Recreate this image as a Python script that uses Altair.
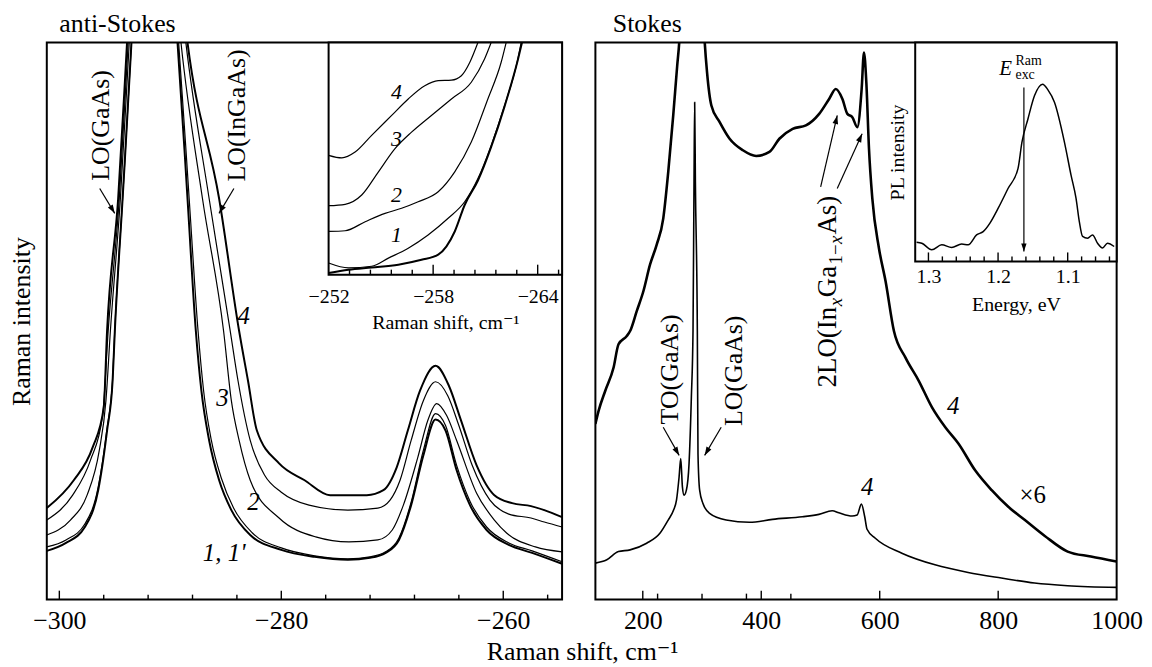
import math
import altair as alt
import pandas as pd

FONT = "Liberation Serif, Times New Roman, DejaVu Serif, serif"
W_L, W_R, H = 518, 524, 560

# ---------------- anti-Stokes main spectra (Raman shift cm-1, intensity a.u.) ----------------
as_x_4 = [-301.13, -298.7, -297.0, -296.0, -295.7, -294.7, -293.9, -293.2, -291.8, -289.8, -288.45, -285.6,
          -283.8, -283.0, -282.2, -280.2, -277.9, -275.6, -272.3, -270.8, -269.6, -268.6, -267.5, -266.1,
          -264.9, -263.8, -262.4, -260.8, -259.2, -257.5, -256.3, -254.7]
as_v_4 = [92, 120, 153, 193, 270, 403, 560, 700, 1000, 700, 560, 403, 270, 220, 170, 137, 120, 105, 105, 110,
          133, 170, 210, 235, 215, 180, 135, 105, 97, 94, 90, 83]
as_x_3 = [-301.13, -298.8, -297.2, -296.1, -295.6, -294.6, -293.8, -293.1, -291.8, -289.9, -288.6, -286.5,
          -284.6, -283.9, -282.8, -281.5, -280.0, -277.5, -274.0, -271.3, -270.2, -269.3, -268.3, -267.2,
          -266.1, -265.0, -264.0, -262.8, -261.2, -259.5, -257.5, -256.3, -254.7]
as_v_3 = [80, 105, 140, 185, 270, 403, 560, 700, 1000, 700, 560, 403, 270, 220, 160, 125, 108, 95, 90, 92, 100,
          120, 160, 200, 219, 205, 175, 135, 100, 86, 82, 78, 73]
as_x_2 = [-301.13, -299.0, -297.5, -296.4, -295.8, -295.4, -294.5, -293.7, -293.0, -291.8, -290.2, -289.04,
          -287.1, -285.2, -284.5, -283.8, -282.8, -280.2, -276.9, -273.9, -271.3, -270.0, -269.0, -267.7,
          -266.8, -266.0, -265.1, -264.2, -262.4, -260.8, -259.7, -257.1, -254.7]
as_v_2 = [65, 80, 105, 150, 200, 270, 403, 560, 700, 1000, 700, 560, 403, 270, 200, 160, 120, 82, 63, 58, 60,
          70, 95, 143, 180, 197, 185, 160, 107, 80, 67, 53, 48]
as_x_1 = [-301.13, -299.4, -297.7, -296.5, -295.7, -295.2, -295.0, -294.3, -293.5, -292.9, -291.8, -290.5,
          -289.35, -288.45, -287.7, -287.2, -286.5, -285.6, -284.5, -282.8, -280.0, -277.0, -274.0, -272.0,
          -270.6, -269.4, -268.3, -267.2, -266.1, -265.2, -264.2, -263.0, -261.5, -259.5, -257.4, -254.7]
as_v_1 = [49, 57, 73, 110, 170, 220, 270, 403, 560, 700, 1000, 700, 560, 403, 270, 210, 160, 120, 90, 65, 50,
          43, 40, 42, 47, 60, 95, 145, 181, 170, 130, 95, 70, 55, 47, 36]
as_x_1p = [-301.13, -299.4, -297.7, -296.5, -295.7, -295.2, -295.0, -294.3, -293.5, -292.9, -291.8, -290.4,
           -289.25, -288.3, -287.5, -287.0, -286.3, -285.4, -284.3, -282.6, -280.0, -277.0, -274.0, -272.0,
           -270.6, -269.4, -268.3, -267.2, -266.1, -265.2, -264.2, -263.0, -261.5, -259.5, -257.4, -254.7]
as_v_1p = [53, 60, 76, 113, 172, 222, 272, 403, 560, 700, 1000, 700, 560, 403, 270, 210, 160, 122, 92, 67, 52,
           44, 41, 43, 48, 62, 98, 150, 187, 175, 135, 99, 73, 57, 49, 38]

# ---------------- anti-Stokes inset ----------------
in_x_4 = [-252.0, -252.76, -253.52, -254.47, -255.62, -256.57, -257.52, -258.29, -259.05, -259.62, -260.1, -260.57]
in_v_4 = [51.4, 50.3, 52.8, 60, 68.6, 75.7, 81.4, 83.6, 83.8, 85.7, 91.4, 100]
in_x_3 = [-252.0, -252.95, -253.9, -254.86, -255.81, -256.76, -257.9, -259.05, -260.19, -260.95, -261.33]
in_v_3 = [29.7, 30.3, 34.3, 44.3, 54.3, 61.4, 68.6, 75.7, 82.9, 92.9, 100]
in_x_2 = [-252.0, -252.95, -254.1, -255.24, -256.19, -257.14, -258.29, -259.24, -260.19, -261.14, -261.9, -262.19]
in_v_2 = [18.6, 18.9, 22.8, 26.4, 28.6, 31.4, 35.7, 44.3, 57.1, 75.7, 91.4, 100]
in_x_1 = [-252.0, -253.14, -254.47, -255.43, -256.57, -257.71, -258.86, -259.81, -260.57, -261.33, -262.1,
          -262.86, -263.05]
in_v_1 = [5, 2.9, 3.6, 7.1, 11.4, 17.1, 24.3, 31.4, 41.4, 55.7, 72.9, 92.9, 100]
in_x_1p = [-252.0, -253.14, -254.47, -256.0, -257.33, -258.29, -259.24, -259.81, -260.57, -261.33, -262.1,
           -262.86, -263.1]
in_v_1p = [0.7, 2.1, 3.1, 4.3, 6.4, 8.6, 18.6, 30, 40.5, 55, 72.5, 92.5, 100]

# ---------------- Stokes main spectra ----------------
st_x_4 = [120, 139.3, 158.9, 178.5, 206.5, 228.9, 242.9, 252.0, 256.9, 261.3, 264.1, 266.9, 269.7, 273.6, 278.1,
          282.0, 284.8, 286.5, 287.6, 288.8, 292.1, 293.2, 296.0, 301.6, 312.8, 340.8, 380.0, 419.0, 469.4, 497.4,
          519.8, 531.0, 553.4, 561.8, 569.1, 574.7, 578.6, 592.6, 637.4, 693.4, 749.3, 805.3, 861.3, 917.2, 1000]
st_v_4 = [36.7, 40, 48.3, 50, 56.7, 66.7, 80, 90, 100, 123.3, 141.7, 113.3, 105, 110, 136.7, 203.3, 270, 420,
          500, 420, 270, 146.7, 110, 96.7, 86.7, 80, 77.7, 80.7, 83.3, 85.7, 89.3, 87.3, 84, 85, 96, 83.3, 70.7,
          61.7, 46.7, 35, 27.3, 21.7, 16.7, 14, 12.3]
st_x_4x6 = [120, 125.5, 136.7, 150.7, 159, 173, 178.6, 189.8, 201, 212.2, 223.4, 234.6, 243, 251.4, 258.1, 261.5,
            268, 280, 295, 304.6, 308.5, 315.8, 329.8, 346.6, 369, 391.4, 413.8, 430.6, 453, 475.4, 497.8, 514.6,
            525.8, 537, 545.4, 553.8, 562.2, 569.5, 573.4, 577.4, 581.9, 587.5, 598.7, 609.9, 624, 643.5, 665.9,
            688.3, 710.7, 733.1, 761.1, 789.1, 817.1, 845.1, 878.7, 917.3, 956.5, 1000]
st_v_4x6 = [176.7, 190, 210, 233.3, 256.7, 265, 270, 290, 310, 336.7, 356.7, 383.3, 430, 486.7, 536.7, 560, 650,
            750, 700, 560, 530, 496.7, 480, 463.3, 451.7, 446, 450, 463.3, 473.3, 476.7, 488.3, 503.3, 513.3, 503.3,
            488.3, 485, 475, 513.3, 550, 520, 453.3, 403.3, 353.3, 320, 270, 243.3, 220, 193.3, 173.3, 156.7, 130,
            110, 93.3, 80, 64, 48.3, 43.3, 38.3]

# ---------------- PL inset ----------------
pl_e = [1.317, 1.3095, 1.2952, 1.2809, 1.2666, 1.2523, 1.2429, 1.2309, 1.2214, 1.2119, 1.2, 1.1857, 1.1714,
        1.1657, 1.1571, 1.1476, 1.136, 1.1286, 1.119, 1.1047, 1.0952, 1.088, 1.0833, 1.0786, 1.0714, 1.0643,
        1.0571, 1.05, 1.0429, 1.0333]
pl_v = [8.8, 8.3, 5.3, 7.6, 6.4, 7.9, 7.6, 12.1, 13.6, 17.4, 24.2, 33.3, 42.4, 54.5, 65.1, 75.8, 81, 78.5, 72.7,
        54.5, 39.4, 28.8, 18.2, 11.4, 10.6, 12.1, 8.3, 6.1, 8.3, 6.8]
e_exc = 1.1629

# ---------------- axes ticks ----------------
as_major = [-300, -280, -260]
as_minor = [-296, -292, -288, -284, -276, -272, -268, -264, -256]
st_labels = [200, 400, 600, 800, 1000]
st_major = [200, 400, 600, 800]
st_minor = [225, 300, 375, 450]
in_as_labels = [-252, -258, -264]
in_as_major = [-258.0, -264.0]
in_as_minor = [-253.2, -254.4, -255.6, -256.8, -259.2, -260.4, -261.6, -262.8, -265.2]
pl_major = [1.3, 1.2, 1.1]
pl_minor = [1.28, 1.26, 1.24, 1.22, 1.18, 1.16, 1.14, 1.12, 1.08, 1.06, 1.04]

# ---------------- annotations ----------------
as_lbl_x = [-296.2, -283.97]
as_lbl_v = [476.7, 486.7]
as_lbl_t = ["LO(GaAs)", "LO(InGaAs)"]
as_arr_x0 = [-296.36, -284.27]
as_arr_v0 = [413.3, 413.3]
as_arr_x1 = [-295.01, -285.61]
as_arr_v1 = [388.3, 388.3]
as_num_x = [-283.38, -285.3, -282.5, -285.15]
as_num_v = [285, 203, 98, 46.7]
as_num_t = ["4", "3", "2", "1, 1'"]
in_num_x = [-255.9, -255.9, -255.9, -255.9]
in_num_v = [78.6, 58.6, 34.3, 17.1]
in_num_t = ["4", "3", "2", "1"]

st_lbl_x = [245.6, 354.7]
st_lbl_v = [231.5, 230]
st_lbl_t = ["TO(GaAs)", "LO(GaAs)"]
st_arr_x0 = [234.5, 332.4, 500.3, 528.3]
st_arr_v0 = [173.3, 173.3, 415, 413.3]
st_arr_x1 = [261.4, 304.4, 528.3, 570.3]
st_arr_v1 = [145, 145, 486.7, 468.3]
st_2lo_x = [525.5, 535.6, 525.5, 535.6, 535.6, 525.5]
st_2lo_v = [213.3, 295, 304, 337, 357.5, 367]
st_2lo_t = ["2LO(In", "x", "Ga", "1\u2212", "x", "As)"]
st_num_x = [724.1, 578.7]
st_num_v = [195, 113.3]
st_num_t = ["4", "4"]
st_x6 = (858.4, 105, "\u00d76")

# ---------------- scales ----------------
XS_L = alt.Scale(domain=[-301.13, -254.7], nice=False, zero=False)
YS = alt.Scale(domain=[0, H], nice=False, zero=False)
XS_R = alt.Scale(domain=[120, 1000], nice=False, zero=False)
IN_L_BOTTOM = 233.3
XS_LI = alt.Scale(domain=[-265.4, -252.0], range=[W_L, 283.3], nice=False, zero=False)
YS_LI = alt.Scale(domain=[0, 100], range=[IN_L_BOTTOM, 0], nice=False, zero=False)
IN_R_BOTTOM = 220
XS_RI = alt.Scale(domain=[1.0297, 1.319], range=[W_R, 321.5], nice=False, zero=False)
YS_RI = alt.Scale(domain=[0, 100], range=[IN_R_BOTTOM, 0], nice=False, zero=False)

HEAD = "M0,0L0.6,1.8L-0.6,1.8Z"


def enc(ch, xs, ys, xax=None, yax=None, two=False):
    e = dict(x=alt.X("x:Q", scale=xs, axis=xax), y=alt.Y("v:Q", scale=ys, axis=yax))
    if two:
        e["x2"] = alt.X2("x2:Q")
        e["y2"] = alt.Y2("v2:Q")
    return ch.encode(**e)


def line(xv, vv, xs, ys, sw, xax=None, yax=None):
    df = pd.DataFrame({"x": xv, "v": vv, "i": list(range(len(xv)))})
    ch = alt.Chart(df).mark_line(color="black", strokeWidth=sw, interpolate="monotone", clip=True,
                                 strokeJoin="round")
    return enc(ch, xs, ys, xax, yax).encode(order=alt.Order("i:Q"))


def ticks(major, minor, lmaj, lmin, xs, ys, xax=None, yax=None, sw=1.4):
    df = pd.DataFrame({"x": major + minor, "x2": major + minor, "v": [0.0] * (len(major) + len(minor)),
                       "v2": [lmaj] * len(major) + [lmin] * len(minor)})
    return enc(alt.Chart(df).mark_rule(color="black", strokeWidth=sw), xs, ys, xax, yax, two=True)


def arrows(x0, v0, x1, v1, xs, ys, sx, sy, size=90):
    df = pd.DataFrame({"x": x0, "v": v0, "x2": x1, "v2": v1})
    rl = enc(alt.Chart(df).mark_rule(color="black", strokeWidth=1.2), xs, ys, two=True)
    ang = [(math.degrees(math.atan2((b - a) * sx, (d - c) * sy)) + 360) % 360
           for a, b, c, d in zip(x0, x1, v0, v1)]
    hd = pd.DataFrame({"x": x1, "v": v1, "a": ang})
    pt = enc(alt.Chart(hd).mark_point(shape=HEAD, filled=True, color="black", size=size, opacity=1,
                                      strokeWidth=0), xs, ys).encode(angle=alt.Angle("a:Q", scale=None))
    return [rl, pt]


def texts(xv, vv, tv, xs, ys, **mk):
    df = pd.DataFrame({"x": xv, "v": vv, "t": tv})
    ch = alt.Chart(df).mark_text(font=FONT, color="black", **mk)
    return enc(ch, xs, ys).encode(text=alt.Text("t:N"))


def frame(x0, x1, xs, ys, xax=None, yax=None):
    df = pd.DataFrame({"x": [x0], "x2": [x1], "v": [0], "v2": [100]})
    ch = alt.Chart(df).mark_rect(fill="white", stroke="black", strokeWidth=2)
    return enc(ch, xs, ys, xax, yax, two=True)


# ---------------- left panel ----------------
sx_L = W_L / (XS_L.domain[1] - XS_L.domain[0])
ax_L = alt.Axis(orient="bottom", values=as_major, ticks=False, domain=False, grid=False, labelFontSize=26,
                labelPadding=8, labelFlush=False, labelFont=FONT, title="Raman shift, cm\u207b\u00b9",
                titleFont=FONT, titleFontSize=26, titleFontWeight="normal", titleX=538, titleY=52,
                titleBaseline="middle", titleAlign="center")
ay_L = alt.Axis(orient="left", labels=False, ticks=False, domain=False, grid=False, title="Raman intensity",
                titleFont=FONT, titleFontSize=26, titleFontWeight="normal", titlePadding=12)
ax_LI = alt.Axis(orient="bottom", offset=-(H - IN_L_BOTTOM), values=in_as_labels, ticks=False,
                 domain=False, grid=False, labelFontSize=20, labelPadding=12, labelFlush=False, labelFont=FONT,
                 title="Raman shift, cm\u207b\u00b9", titleFont=FONT, titleFontSize=20,
                 titleFontWeight="normal", titlePadding=6)
li_u = IN_L_BOTTOM / 100.0
left_layers = [
    ticks(as_major, as_minor, 9, 5, XS_L, YS, ax_L, ay_L),
    line(as_x_1p, as_v_1p, XS_L, YS, 1.2),
    line(as_x_1, as_v_1, XS_L, YS, 2.0),
    line(as_x_2, as_v_2, XS_L, YS, 1.2),
    line(as_x_3, as_v_3, XS_L, YS, 1.2),
    line(as_x_4, as_v_4, XS_L, YS, 2.0),
    *arrows(as_arr_x0, as_arr_v0, as_arr_x1, as_arr_v1, XS_L, YS, sx_L, 1.0),
    texts(as_lbl_x, as_lbl_v, as_lbl_t, XS_L, YS, fontSize=26, angle=270, align="center", baseline="middle"),
    texts(as_num_x, as_num_v, as_num_t, XS_L, YS, fontSize=25, fontStyle="italic", align="center",
          baseline="middle"),
    frame(-252.0, -265.4, XS_LI, YS_LI, ax_LI, None),
    ticks(in_as_major, in_as_minor, 10 / li_u, 5 / li_u, XS_LI, YS_LI),
    line(in_x_1p, in_v_1p, XS_LI, YS_LI, 2.0),
    line(in_x_1, in_v_1, XS_LI, YS_LI, 1.2),
    line(in_x_2, in_v_2, XS_LI, YS_LI, 1.2),
    line(in_x_3, in_v_3, XS_LI, YS_LI, 1.2),
    line(in_x_4, in_v_4, XS_LI, YS_LI, 1.2),
    texts(in_num_x, in_num_v, in_num_t, XS_LI, YS_LI, fontSize=22, fontStyle="italic", align="center",
          baseline="middle"),
]
left = alt.layer(*left_layers).resolve_scale(x="independent", y="independent").properties(
    width=W_L, height=H,
    title=alt.TitleParams("anti-Stokes", anchor="start", frame="group", dx=12.6, dy=27, offset=11,
                          baseline="alphabetic", fontSize=26, font=FONT, fontWeight="normal", color="black"))

# ---------------- right panel ----------------
sx_R = W_R / (XS_R.domain[1] - XS_R.domain[0])
ax_R = alt.Axis(orient="bottom", values=st_labels, format="d", ticks=False, domain=False, grid=False,
                labelFontSize=26, labelFont=FONT, labelPadding=8, labelFlush=False, title=None)
ax_RI = alt.Axis(orient="bottom", offset=-(H - IN_R_BOTTOM), values=pl_major, format=".1f", ticks=False,
                 domain=False, grid=False, labelFontSize=20, labelFont=FONT, labelPadding=5, labelFlush=False,
                 title="Energy, eV", titleFont=FONT, titleFontSize=20, titleFontWeight="normal", titlePadding=8)
ay_RI = alt.Axis(orient="left", offset=-321.5, labels=False, ticks=False, domain=False, grid=False,
                 title="PL intensity", titleFont=FONT, titleFontSize=20, titleFontWeight="normal",
                 titlePadding=8)
ri_u = IN_R_BOTTOM / 100.0
sx_RI = (321.5 - W_R) / (XS_RI.domain[1] - XS_RI.domain[0])
right_layers = [
    ticks(st_major, st_minor, 9, 6, XS_R, YS, ax_R, None),
    line(st_x_4, st_v_4, XS_R, YS, 1.6),
    line(st_x_4x6, st_v_4x6, XS_R, YS, 2.6),
    *arrows(st_arr_x0, st_arr_v0, st_arr_x1, st_arr_v1, XS_R, YS, sx_R, 1.0),
    texts(st_lbl_x, st_lbl_v, st_lbl_t, XS_R, YS, fontSize=26, angle=270, align="center", baseline="middle"),
    texts([st_2lo_x[i] for i in (0, 2, 5)], [st_2lo_v[i] for i in (0, 2, 5)],
          [st_2lo_t[i] for i in (0, 2, 5)], XS_R, YS, fontSize=27, angle=270, align="left",
          baseline="alphabetic"),
    texts([st_2lo_x[3]], [st_2lo_v[3]], [st_2lo_t[3]], XS_R, YS, fontSize=19, angle=270, align="left",
          baseline="alphabetic"),
    texts([st_2lo_x[i] for i in (1, 4)], [st_2lo_v[i] for i in (1, 4)], [st_2lo_t[i] for i in (1, 4)],
          XS_R, YS, fontSize=19, fontStyle="italic", angle=270, align="left", baseline="alphabetic"),
    texts(st_num_x, st_num_v, st_num_t, XS_R, YS, fontSize=25, fontStyle="italic", align="center",
          baseline="middle"),
    texts([st_x6[0]], [st_x6[1]], [st_x6[2]], XS_R, YS, fontSize=25, align="center", baseline="middle"),
    frame(1.319, 1.0297, XS_RI, YS_RI, ax_RI, ay_RI),
    ticks(pl_major, pl_minor, 9 / ri_u, 5 / ri_u, XS_RI, YS_RI),
    line(pl_e, pl_v, XS_RI, YS_RI, 1.5),
    *arrows([e_exc], [79.5], [e_exc], [4.5], XS_RI, YS_RI, sx_RI, ri_u, size=80),
    texts([1.189], [87.9], ["E"], XS_RI, YS_RI, fontSize=21, fontStyle="italic", align="center",
          baseline="middle"),
    texts([1.175], [91.6], ["Ram"], XS_RI, YS_RI, fontSize=14, align="left", baseline="middle"),
    texts([1.175], [85.0], ["exc"], XS_RI, YS_RI, fontSize=14, align="left", baseline="middle"),
]
right = alt.layer(*right_layers).resolve_scale(x="independent", y="independent").properties(
    width=W_R, height=H,
    title=alt.TitleParams("Stokes", anchor="start", frame="group", dx=17.5, dy=27, offset=11,
                          baseline="alphabetic", fontSize=26, font=FONT, fontWeight="normal", color="black"))

chart = alt.hconcat(left, right, spacing=33.5, bounds="flush").properties(
    padding={"left": 0, "top": 0, "right": 0, "bottom": 0}
).configure_view(stroke="black", strokeWidth=2).configure_axis(
    labelFont=FONT, titleFont=FONT, titleFontWeight="normal", labelColor="black", titleColor="black"
).configure_title(font=FONT, fontWeight="normal", color="black")

chart.save("out.html", embed_options={"renderer": "svg", "actions": False})
